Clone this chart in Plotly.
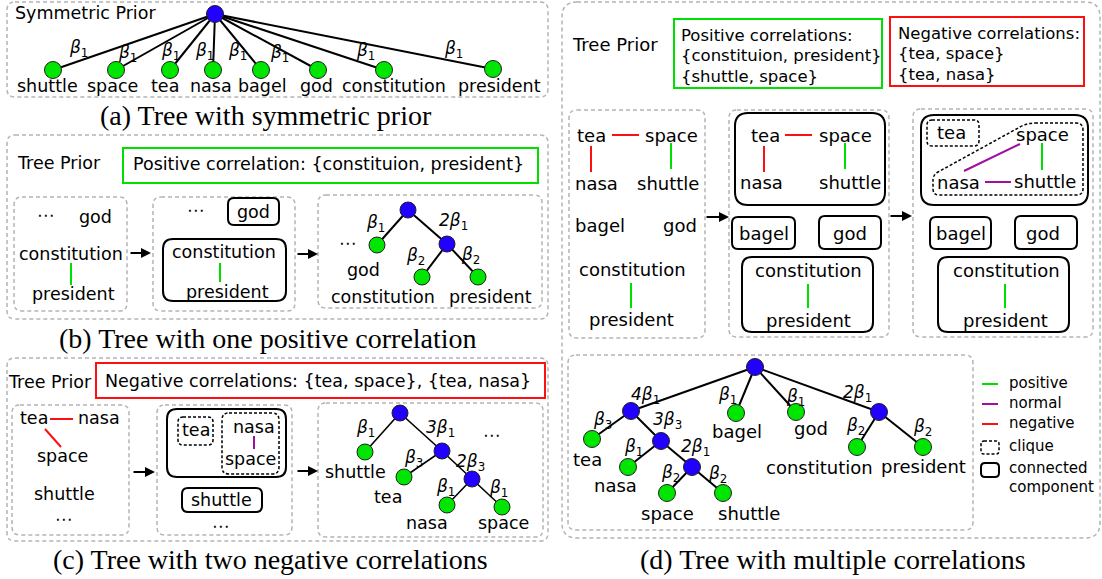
import plotly.graph_objects as go

SANS = "DejaVu Sans"
SERIF = "Liberation Serif"
BLUE = "#2200ff"
GREEN = "#00e600"
LGREEN = "#00e000"
RED = "#ff1010"
PURPLE = "#a010a0"
GRAY = "#b4b4b4"

# ---------------- data ----------------
# (a) symmetric prior: root + leaves
a_words = ["shuttle", "space", "tea", "nasa", "bagel", "god", "constitution", "president"]
a_leaf_x = [53, 116, 170, 213, 261, 318, 384, 493]
a_leaf_y = [70, 70, 70, 70, 70, 70, 70, 69]
a_word_x = [47, 112, 165, 211, 262, 316, 394, 499]
a_beta_x = [78, 127, 170, 204, 237, 279, 365, 453]
a_beta_y = [48, 53, 51, 51, 51, 53, 51, 49]
a_root = [215, 14]

# (b) tree with one positive correlation
b_x = [408, 377, 447, 422, 478]
b_y = [210, 245, 244, 277, 277]
b_inner = [1, 0, 1, 0, 0]
b_edges = [(0, 1), (0, 2), (2, 3), (2, 4)]
b_coef = ["", "2", "", ""]
b_sub = ["1", "1", "2", "2"]
b_lbl_x = [375, 453, 415, 470]
b_lbl_y = [223, 221, 256, 255]

# (c) tree with two negative correlations
c_x = [400, 365, 442, 404, 472, 447, 502]
c_y = [413, 452, 451, 477, 479, 505, 507]
c_inner = [1, 0, 1, 0, 1, 0, 0]
c_edges = [(0, 1), (0, 2), (2, 3), (2, 4), (4, 5), (4, 6)]
c_coef = ["", "3", "", "2", "", ""]
c_sub = ["1", "1", "3", "3", "1", "1"]
c_lbl_x = [365, 440, 413, 470, 445, 498]
c_lbl_y = [428, 428, 458, 462, 487, 488]

# (d) tree with multiple correlations
d_x = [755, 631, 736, 796, 879, 592, 661, 628, 692, 667, 723, 857, 923]
d_y = [367, 411, 413, 412, 412, 439, 441, 467, 467, 493, 493, 447, 447]
d_inner = [1, 1, 0, 0, 1, 0, 1, 0, 1, 0, 0, 0, 0]
d_edges = [(0, 1), (0, 2), (0, 3), (0, 4), (1, 5), (1, 6), (6, 7), (6, 8),
           (8, 9), (8, 10), (4, 11), (4, 12)]
d_coef = ["4", "", "", "2", "", "3", "", "2", "", "", "", ""]
d_sub = ["1", "1", "1", "1", "3", "3", "1", "1", "2", "2", "2", "2"]
d_lbl_x = [645, 727, 795, 857, 602, 667, 633, 695, 670, 717, 855, 922]
d_lbl_y = [395, 395, 397, 393, 420, 420, 447, 447, 473, 474, 426, 427]

captions = ["(a) Tree with symmetric prior", "(b) Tree with one positive correlation",
            "(c) Tree with two negative correlations", "(d) Tree with multiple correlations"]

shapes = []
annotations = []


def rbox(x0, y0, x1, y1, r):
    return (f"M {x0+r},{y0} L {x1-r},{y0} Q {x1},{y0} {x1},{y0+r} "
            f"L {x1},{y1-r} Q {x1},{y1} {x1-r},{y1} L {x0+r},{y1} "
            f"Q {x0},{y1} {x0},{y1-r} L {x0},{y0+r} Q {x0},{y0} {x0+r},{y0} Z")


def box(x0, y0, x1, y1, r=8, color="black", width=2, dash=None):
    shapes.append(dict(type="path", path=rbox(x0, y0, x1, y1, r), xref="x", yref="y",
                       line=dict(color=color, width=width, dash=dash), layer="below"))


def seg(x0, y0, x1, y1, color, width=2):
    shapes.append(dict(type="line", x0=x0, y0=y0, x1=x1, y1=y1, xref="x", yref="y",
                       line=dict(color=color, width=width)))


def txt(s, x, y, size=17.5, anchor="center", family=SANS):
    annotations.append(dict(text=s, x=x, y=y, xref="x", yref="y", showarrow=False,
                            xanchor=anchor, yanchor="middle",
                            font=dict(family=family, size=size, color="black")))


def arrow(x0, x1, y):
    annotations.append(dict(text="", x=x1, y=y, ax=x0, ay=y, xref="x", yref="y",
                            axref="x", ayref="y", showarrow=True, arrowhead=2,
                            arrowsize=1, arrowwidth=2, arrowcolor="black"))


def beta(coef, sub):
    return f"<i>{coef}β</i><sub>{sub}</sub>"


fig = go.Figure()


def tree(xs, ys, inner, edges, coef, sub, lx, ly, size=17, lw=2):
    ex, ey = [], []
    for p, c in edges:
        ex += [xs[p], xs[c], None]
        ey += [ys[p], ys[c], None]
    fig.add_trace(go.Scatter(x=ex, y=ey, mode="lines", line=dict(color="black", width=lw),
                             hoverinfo="skip"))
    fig.add_trace(go.Scatter(x=xs, y=ys, mode="markers", hoverinfo="skip",
                             marker=dict(size=size, color=[BLUE if i else GREEN for i in inner],
                                         line=dict(color="#202020", width=1))))
    for k in range(len(edges)):
        txt(beta(coef[k], sub[k]), lx[k], ly[k], size=17)


# ---------------- (a) ----------------
box(7, 2, 548, 97, 8, GRAY, 1.5, "4px,3px")
txt("Symmetric Prior", 13, 13, anchor="left")
tree([a_root[0]] + a_leaf_x, [a_root[1]] + a_leaf_y, [1] + [0] * 8,
     [(0, i + 1) for i in range(8)], [""] * 8, ["1"] * 8, a_beta_x, a_beta_y)
for w, x in zip(a_words, a_word_x):
    txt(w, x, 86)
txt(captions[0], 266, 115, size=28, family=SERIF)

# ---------------- (b) ----------------
box(7, 135, 548, 319, 8, GRAY, 1.5, "4px,3px")
txt("Tree Prior", 59, 163)
box(123, 148, 538, 183, 0, LGREEN, 2)
txt("Positive correlation: {constituion, president}", 131, 164, anchor="left")
box(14, 197, 127, 311, 8, GRAY, 1.5, "4px,3px")
txt("⋯", 46, 215)
txt("god", 95, 217)
txt("constitution", 71, 254)
seg(71, 263, 71, 285, LGREEN)
txt("president", 73, 294)
arrow(129, 151, 253)
box(153, 197, 295, 311, 8, GRAY, 1.5, "4px,3px")
txt("⋯", 196, 210)
box(228, 198, 279, 225, 6)
txt("god", 253, 212)
box(163, 239, 286, 301, 10)
txt("constitution", 224, 252)
seg(220, 263, 220, 282, LGREEN)
txt("president", 227, 292)
arrow(296, 318, 254)
box(318, 195, 542, 308, 8, GRAY, 1.5, "4px,3px")
tree(b_x, b_y, b_inner, b_edges, b_coef, b_sub, b_lbl_x, b_lbl_y, size=16)
txt("⋯", 348, 243)
txt("god", 363, 270)
txt("constitution", 383, 297)
txt("president", 490, 297)
txt(captions[1], 268, 338, size=28, family=SERIF)

# ---------------- (c) ----------------
box(7, 358, 548, 541, 8, GRAY, 1.5, "4px,3px")
txt("Tree Prior", 50, 382)
box(96, 363, 545, 398, 0, RED, 2)
txt("Negative correlations: {tea, space}, {tea, nasa}", 103, 381, anchor="left")
box(12, 405, 129, 535, 8, GRAY, 1.5, "4px,3px")
txt("tea", 34, 418)
seg(50, 419, 73, 419, RED)
txt("nasa", 99, 418)
seg(45, 429, 61, 447, RED)
txt("space", 62, 456)
txt("shuttle", 64, 494)
txt("⋯", 64, 519)
arrow(132, 155, 472)
box(157, 405, 292, 535, 8, GRAY, 1.5, "4px,3px")
box(167, 409, 286, 477, 10)
box(178, 417, 213, 445, 5, "black", 1.5, "3px,2px")
txt("tea", 196, 430)
box(222, 413, 279, 474, 7, "black", 1.5, "3px,2px")
txt("nasa", 254, 427)
seg(254, 436, 254, 449, PURPLE)
txt("space", 250, 459)
box(182, 488, 262, 512, 6)
txt("shuttle", 221, 500)
txt("⋯", 221, 526)
arrow(296, 318, 471)
box(318, 403, 543, 537, 8, GRAY, 1.5, "4px,3px")
tree(c_x, c_y, c_inner, c_edges, c_coef, c_sub, c_lbl_x, c_lbl_y, size=16, lw=1.6)
txt("shuttle", 355, 472)
txt("tea", 388, 497)
txt("nasa", 427, 523)
txt("space", 503, 523)
txt("⋯", 492, 435)
txt(captions[2], 270, 559, size=28, family=SERIF)

# ---------------- (d) ----------------
box(562, 2, 1100, 538, 15, GRAY, 1.5, "4px,3px")
txt("Tree Prior", 615, 44, size=18)
box(674, 19, 882, 88, 0, LGREEN, 2)
for i, s in enumerate(["Positive correlations:", "{constituion, president}", "{shuttle, space}"]):
    txt(s, 679, 35 + 20.5 * i, size=16.5, anchor="left")
box(890, 17, 1084, 86, 0, RED, 2)
for i, s in enumerate(["Negative correlations:", "{tea, space}", "{tea, nasa}"]):
    txt(s, 896, 33 + 20.5 * i, size=16.5, anchor="left")

# d1
box(569, 110, 705, 338, 8, GRAY, 1.5, "4px,3px")
txt("tea", 591, 135, 18)
seg(612, 135, 639, 135, RED)
txt("space", 671, 135, 18)
seg(591, 146, 591, 172, RED)
seg(671, 143, 671, 169, LGREEN)
txt("nasa", 596, 183, 18)
txt("shuttle", 668, 183, 18)
txt("bagel", 600, 225, 18)
txt("god", 680, 225, 18)
txt("constitution", 632, 269, 18)
seg(631, 283, 631, 308, LGREEN)
txt("president", 631, 319, 18)
arrow(705, 729, 217)

# d2
box(729, 110, 889, 337, 8, GRAY, 1.5, "4px,3px")
box(735, 113, 885, 205, 13)
txt("tea", 765, 135, 18)
seg(785, 135, 812, 135, RED)
txt("space", 845, 135, 18)
seg(764, 146, 764, 172, RED)
seg(845, 143, 845, 169, LGREEN)
txt("nasa", 761, 182, 18)
txt("shuttle", 850, 182, 18)
box(732, 217, 795, 249, 6)
txt("bagel", 764, 233, 18)
box(819, 216, 881, 249, 6)
txt("god", 850, 233, 18)
box(742, 257, 873, 332, 10)
txt("constitution", 808, 270, 18)
seg(808, 284, 808, 308, LGREEN)
txt("president", 808, 320, 18)
arrow(889, 912, 216)

# d3
box(913, 109, 1093, 337, 8, GRAY, 1.5, "4px,3px")
box(921, 115, 1088, 205, 13)
box(927, 120, 979, 146, 5, "black", 1.5, "3px,2px")
txt("tea", 951, 132, 18)
shapes.append(dict(type="path", xref="x", yref="y",
                   path="M 1035,123 L 1076,123 Q 1083,123 1083,130 L 1083,189 Q 1083,195 1076,195 "
                        "L 939,195 Q 933,195 933,189 L 933,180 Q 933,175 938,172 L 1020,127 "
                        "Q 1027,123 1035,123 Z",
                   line=dict(color="black", width=1.5, dash="3px,2px")))
txt("space", 1042, 134, 18)
seg(1042, 143, 1042, 170, LGREEN)
seg(964, 171, 1020, 144, PURPLE)
txt("nasa", 958, 182, 18)
seg(985, 182, 1011, 182, PURPLE)
txt("shuttle", 1045, 181, 18)
box(930, 217, 991, 249, 6)
txt("bagel", 961, 233, 18)
box(1015, 216, 1077, 249, 6)
txt("god", 1043, 233, 18)
box(938, 257, 1069, 332, 10)
txt("constitution", 1006, 270, 18)
seg(1005, 284, 1005, 308, LGREEN)
txt("president", 1005, 320, 18)

# d4 tree
box(568, 355, 973, 530, 8, GRAY, 1.5, "4px,3px")
tree(d_x, d_y, d_inner, d_edges, d_coef, d_sub, d_lbl_x, d_lbl_y, size=17)
for s, x, y in [("tea", 587, 459), ("nasa", 615, 485), ("space", 667, 513),
                ("shuttle", 749, 513), ("bagel", 737, 431), ("god", 811, 428),
                ("constitution", 819, 467), ("president", 923, 466)]:
    txt(s, x, y, 18)

# legend
seg(982, 384, 998, 384, LGREEN)
seg(982, 404, 998, 404, PURPLE)
seg(982, 424, 998, 424, RED)
box(981, 441, 999, 454, 3, "black", 1.5, "3px,2px")
box(981, 463, 999, 477, 4)
for s, y in [("positive", 383), ("normal", 403), ("negative", 423), ("clique", 446),
             ("connected", 468), ("component", 487)]:
    txt(s, 1007, y, 15, anchor="left")

txt(captions[3], 833, 559, size=28, family=SERIF)

fig.update_layout(
    width=1102, height=579,
    margin=dict(l=0, r=0, t=0, b=0),
    paper_bgcolor="white", plot_bgcolor="white",
    showlegend=False,
    xaxis=dict(range=[0, 1102], visible=False, fixedrange=True),
    yaxis=dict(range=[579, 0], visible=False, fixedrange=True),
    shapes=shapes, annotations=annotations,
)

# the page's default body margin would shift the drawing by 8px
fig.write_html("out.html", config={"displayModeBar": False},
               post_script="document.body.style.margin='0px';document.body.style.overflow='hidden';")
